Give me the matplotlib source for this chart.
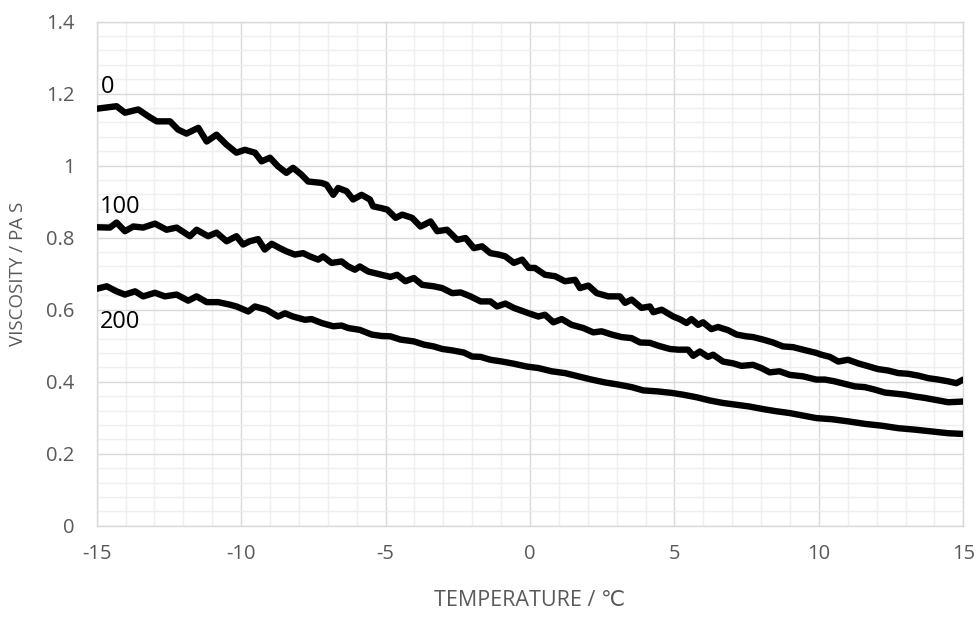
import matplotlib
matplotlib.use("Agg")
import matplotlib.pyplot as plt
from matplotlib.ticker import MultipleLocator

plt.rcParams['font.family'] = ['Open Sans', 'DejaVu Sans']
plt.rcParams['axes.unicode_minus'] = False

# viscosity curves (temperature in C, viscosity in Pa s)
temp_0 = [-15.0, -14.31, -14.02, -13.56, -13.21, -12.92, -12.46, -12.18, -11.89, -11.48,
          -11.19, -10.85, -10.50, -10.16, -9.87, -9.52, -9.29, -9.0, -8.72, -8.43,
          -8.2, -7.91, -7.68, -7.21, -7.04, -6.81, -6.64, -6.35, -6.12, -5.83,
          -5.54, -5.43, -5.14, -4.94, -4.65, -4.42, -4.08, -3.79, -3.44, -3.21,
          -2.87, -2.52, -2.23, -1.94, -1.66, -1.37, -1.08, -0.85, -0.56, -0.27,
          -0.04, 0.17, 0.52, 0.87, 1.21, 1.56, 1.73, 2.02, 2.31, 2.71,
          3.11, 3.29, 3.52, 3.86, 4.15, 4.27, 4.56, 4.96, 5.18, 5.42,
          5.59, 5.82, 5.99, 6.28, 6.51, 6.86, 7.15, 7.49, 7.72, 8.07,
          8.41, 8.76, 9.11, 9.45, 9.91, 10.09, 10.38, 10.67, 11.01, 11.36,
          11.71, 12.05, 12.40, 12.75, 13.09, 13.44, 13.78, 14.13, 14.48, 14.76,
          15.0]
visc_0 = [1.158, 1.165, 1.147, 1.156, 1.137, 1.123, 1.123, 1.100, 1.089, 1.105,
          1.067, 1.086, 1.058, 1.036, 1.044, 1.036, 1.012, 1.022, 0.998, 0.980,
          0.994, 0.975, 0.956, 0.952, 0.947, 0.919, 0.938, 0.929, 0.906, 0.919,
          0.906, 0.887, 0.882, 0.878, 0.855, 0.864, 0.855, 0.831, 0.845, 0.818,
          0.822, 0.794, 0.799, 0.771, 0.776, 0.757, 0.753, 0.748, 0.730, 0.739,
          0.716, 0.716, 0.697, 0.693, 0.679, 0.683, 0.660, 0.667, 0.646, 0.637,
          0.637, 0.619, 0.628, 0.605, 0.609, 0.593, 0.600, 0.581, 0.574, 0.563,
          0.574, 0.558, 0.565, 0.546, 0.552, 0.543, 0.531, 0.526, 0.524, 0.517,
          0.509, 0.498, 0.496, 0.489, 0.480, 0.475, 0.469, 0.456, 0.461, 0.451,
          0.443, 0.435, 0.431, 0.424, 0.422, 0.417, 0.410, 0.406, 0.401, 0.396,
          0.406]

temp_100 = [-15.0, -14.54, -14.31, -14.02, -13.73, -13.39, -12.98, -12.58, -12.23, -11.77,
            -11.54, -11.14, -10.85, -10.50, -10.16, -9.93, -9.70, -9.41, -9.18, -8.94,
            -8.66, -8.43, -8.14, -7.85, -7.62, -7.33, -7.16, -6.87, -6.52, -6.29,
            -6.06, -5.89, -5.60, -5.14, -4.83, -4.60, -4.31, -4.02, -3.73, -3.33,
            -3.04, -2.69, -2.40, -2.06, -1.71, -1.37, -1.14, -0.85, -0.56, -0.04,
            0.29, 0.52, 0.81, 1.10, 1.44, 1.85, 2.19, 2.48, 2.83, 3.17,
            3.52, 3.81, 4.15, 4.44, 4.84, 5.13, 5.47, 5.65, 5.88, 6.16,
            6.34, 6.68, 7.03, 7.32, 7.72, 8.01, 8.30, 8.64, 8.99, 9.45,
            9.91, 10.21, 10.55, 10.90, 11.25, 11.59, 11.94, 12.28, 12.63, 12.98,
            13.32, 13.67, 14.01, 14.48, 15.0]
visc_100 = [0.829, 0.828, 0.842, 0.818, 0.831, 0.828, 0.839, 0.822, 0.828, 0.804,
            0.822, 0.804, 0.814, 0.790, 0.804, 0.781, 0.790, 0.796, 0.767, 0.783,
            0.771, 0.762, 0.753, 0.757, 0.748, 0.739, 0.748, 0.730, 0.734, 0.720,
            0.711, 0.720, 0.706, 0.697, 0.691, 0.697, 0.679, 0.688, 0.669, 0.665,
            0.660, 0.646, 0.648, 0.637, 0.623, 0.623, 0.609, 0.617, 0.605, 0.590,
            0.581, 0.586, 0.565, 0.574, 0.558, 0.549, 0.537, 0.540, 0.531, 0.524,
            0.521, 0.509, 0.508, 0.500, 0.491, 0.489, 0.489, 0.472, 0.484, 0.469,
            0.475, 0.456, 0.451, 0.444, 0.447, 0.438, 0.426, 0.429, 0.419, 0.415,
            0.406, 0.406, 0.401, 0.394, 0.387, 0.385, 0.378, 0.370, 0.367, 0.364,
            0.359, 0.355, 0.350, 0.343, 0.345]

temp_200 = [-15.0, -14.65, -14.31, -14.02, -13.67, -13.39, -12.98, -12.64, -12.23, -11.83,
            -11.54, -11.19, -10.79, -10.39, -10.16, -9.75, -9.52, -9.12, -8.72, -8.48,
            -8.2, -7.79, -7.56, -7.21, -6.81, -6.52, -6.29, -5.89, -5.48, -5.14,
            -4.83, -4.48, -4.02, -3.67, -3.33, -3.04, -2.69, -2.29, -2.00, -1.71,
            -1.37, -0.96, -0.56, -0.10, 0.29, 0.75, 1.21, 1.67, 2.13, 2.60,
            3.06, 3.52, 3.92, 4.44, 4.90, 5.30, 5.76, 6.22, 6.68, 7.15,
            7.61, 8.07, 8.53, 8.99, 9.45, 9.91, 10.44, 11.01, 11.59, 12.17,
            12.75, 13.32, 13.90, 14.48, 15.0]
visc_200 = [0.658, 0.665, 0.651, 0.642, 0.651, 0.637, 0.647, 0.637, 0.642, 0.625,
            0.637, 0.621, 0.621, 0.614, 0.609, 0.595, 0.609, 0.600, 0.581, 0.590,
            0.581, 0.572, 0.574, 0.563, 0.554, 0.556, 0.549, 0.544, 0.531, 0.527,
            0.526, 0.517, 0.512, 0.503, 0.498, 0.491, 0.487, 0.481, 0.470, 0.469,
            0.461, 0.456, 0.450, 0.442, 0.438, 0.429, 0.424, 0.415, 0.406, 0.398,
            0.392, 0.385, 0.376, 0.373, 0.369, 0.364, 0.357, 0.348, 0.341, 0.336,
            0.331, 0.324, 0.318, 0.313, 0.306, 0.299, 0.296, 0.290, 0.283, 0.278,
            0.271, 0.267, 0.262, 0.257, 0.255]

series_names = ['0', '100', '200']
label_pos = [(-14.85, 1.218), (-14.88, 0.886), (-14.88, 0.566)]

fig = plt.figure(figsize=(9.76, 6.35), dpi=100)
ax = fig.add_axes([0.099, 0.172, 0.888, 0.794])

for t, v in [(temp_0, visc_0), (temp_100, visc_100), (temp_200, visc_200)]:
    ax.plot(t, v, color='black', linewidth=4.6, solid_joinstyle='round',
            solid_capstyle='round', zorder=3)

for name, (lx, ly) in zip(series_names, label_pos):
    ax.text(lx, ly, name, fontsize=17, color='black', ha='left', va='center', zorder=4)

ax.set_xlim(-15, 15)
ax.set_ylim(0, 1.4)
ax.xaxis.set_major_locator(MultipleLocator(5))
ax.xaxis.set_minor_locator(MultipleLocator(1))
ax.yaxis.set_major_locator(MultipleLocator(0.2))
ax.yaxis.set_minor_locator(MultipleLocator(0.04))
ax.set_yticks(ax.get_yticks())
ax.set_yticklabels([f'{v:g}' for v in ax.get_yticks()])
ax.set_ylim(0, 1.4)

ax.grid(which='major', color='#d9d9d9', linewidth=1.0)
ax.grid(which='minor', color='#efefef', linewidth=1.0)
ax.set_axisbelow(True)
for s in ax.spines.values():
    s.set_color('#d9d9d9')
    s.set_linewidth(1.0)

ax.tick_params(which='both', length=0, colors='#595959', labelsize=14.5)
ax.tick_params(axis='x', pad=13)
ax.tick_params(axis='y', pad=16)

ax.set_xlabel('TEMPERATURE / ℃', fontsize=15.5, color='#595959')
ax.set_ylabel('VISCOSITY / PA S', fontsize=13.5, color='#595959')
ax.xaxis.set_label_coords(0.5, -0.127)
ax.yaxis.set_label_coords(-0.08, 0.5)

fig.savefig('out.png', dpi=100)
